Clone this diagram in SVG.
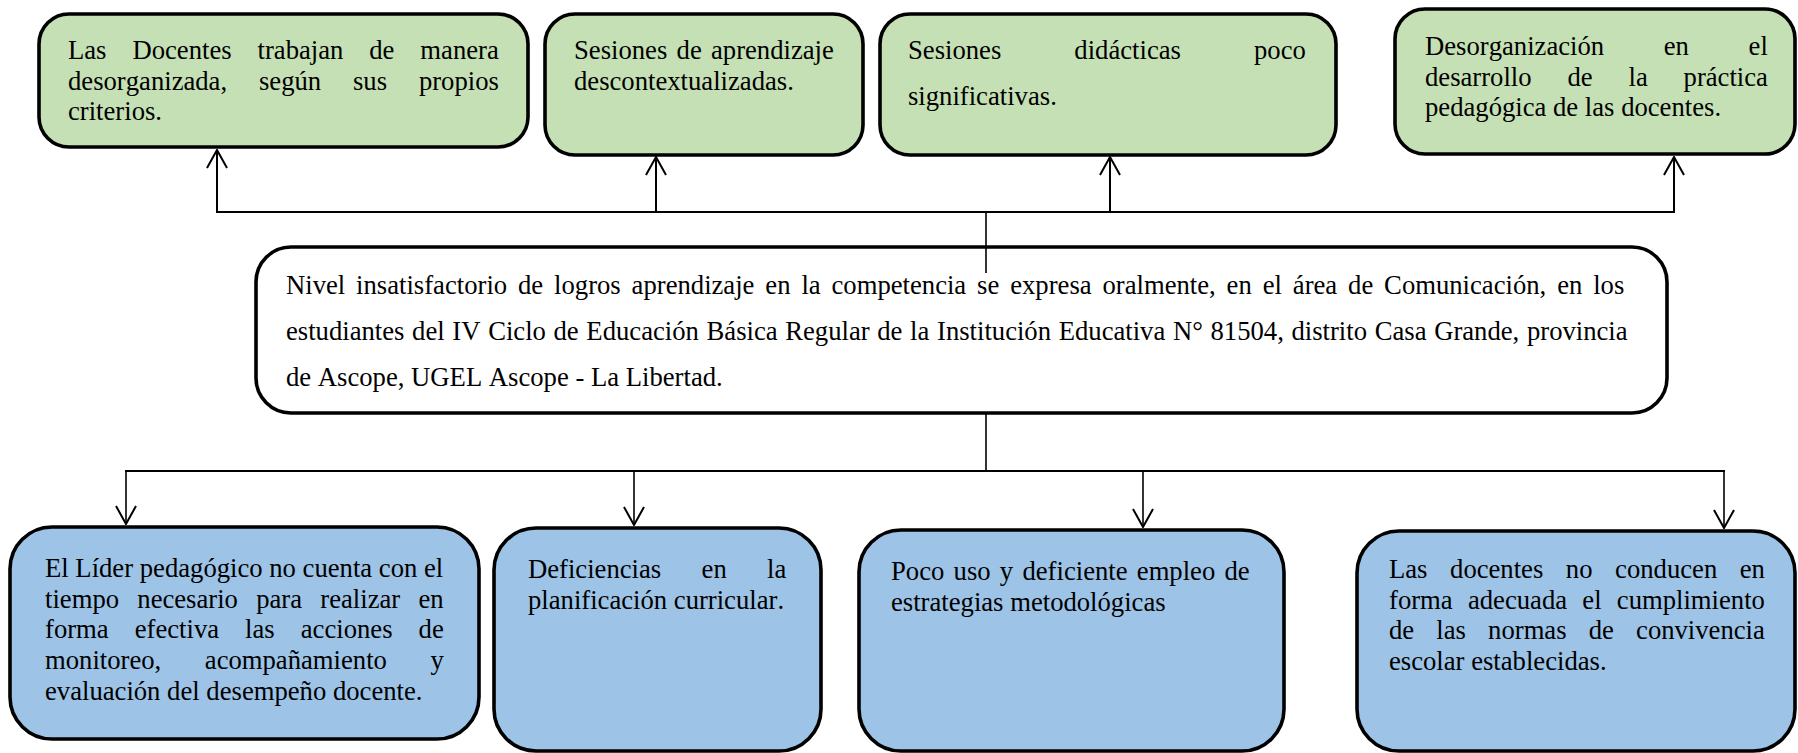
<svg xmlns="http://www.w3.org/2000/svg" width="1798" height="753" viewBox="0 0 1798 753">
<defs>
<style>
.t{font-family:"Liberation Serif","Times New Roman",serif;font-size:26.67px;fill:#000;font-kerning:none}
.g{fill:#C5E0B4;stroke:#000;stroke-width:3.6}
.b{fill:#9DC3E6;stroke:#000;stroke-width:3.6}
.w{fill:#fff;stroke:#000;stroke-width:3.6}
.c{fill:none;stroke:#000;stroke-width:2}
.c2{fill:none;stroke:#000;stroke-width:1.6}
</style>
<marker id="ah" markerUnits="userSpaceOnUse" viewBox="0 0 20 22" refX="19" refY="11" markerWidth="20" markerHeight="22" orient="auto">
<path d="M1,1 L19,11 L1,21" fill="none" stroke="#000" stroke-width="2"/>
</marker>
</defs>
<rect width="1798" height="753" fill="#fff"/>
<g id="n1">
<rect class="g" x="39" y="14" width="489" height="133" rx="30"/>
<text class="t" x="68" y="59" style="word-spacing:19.26px">Las Docentes trabajan de manera</text>
<text class="t" x="68" y="89.5" style="word-spacing:25.17px">desorganizada, según sus propios</text>
<text class="t" x="68" y="120">criterios.</text>
</g>
<g id="n2">
<rect class="g" x="545" y="14" width="318" height="141" rx="30"/>
<text class="t" x="574" y="59" style="word-spacing:2.6px">Sesiones de aprendizaje</text>
<text class="t" x="574" y="89.5">descontextualizadas.</text>
</g>
<g id="n3">
<rect class="g" x="880" y="14" width="456" height="141" rx="30"/>
<text class="t" x="908" y="59" style="word-spacing:66.4px">Sesiones didácticas poco</text>
<text class="t" x="908" y="105">significativas.</text>
</g>
<g id="n4">
<rect class="g" x="1395" y="9" width="400" height="145" rx="30"/>
<text class="t" x="1425" y="55" style="word-spacing:53px">Desorganización en el</text>
<text class="t" x="1425" y="85.7" style="word-spacing:29.2px">desarrollo de la práctica</text>
<text class="t" x="1425" y="116.3">pedagógica de las docentes.</text>
</g>
<g id="n0">
<rect class="w" x="256" y="247" width="1411" height="166" rx="35"/>
<text class="t" x="286" y="293.5" style="word-spacing:4.23px">Nivel insatisfactorio de logros aprendizaje en la competencia se expresa oralmente, en el área de Comunicación, en los</text>
<text class="t" x="286" y="339.5" style="word-spacing:1px">estudiantes del IV Ciclo de Educación Básica Regular de la Institución Educativa N° 81504, distrito Casa Grande, provincia</text>
<text class="t" x="286" y="385.5">de Ascope, UGEL Ascope - La Libertad.</text>
</g>
<g id="n5">
<rect class="b" x="10" y="527" width="469" height="212" rx="42"/>
<text class="t" x="45" y="577">El Líder pedagógico no cuenta con el</text>
<text class="t" x="45" y="607.7" style="word-spacing:11.6px">tiempo necesario para realizar en</text>
<text class="t" x="45" y="638.3" style="word-spacing:19.4px">forma efectiva las acciones de</text>
<text class="t" x="45" y="669" style="word-spacing:36.9px">monitoreo, acompañamiento y</text>
<text class="t" x="45" y="699.7">evaluación del desempeño docente.</text>
</g>
<g id="n6">
<rect class="b" x="494" y="528" width="327" height="223" rx="42"/>
<text class="t" x="528" y="578" style="word-spacing:33.7px">Deficiencias en la</text>
<text class="t" x="528" y="608.7">planificación curricular.</text>
</g>
<g id="n7">
<rect class="b" x="859" y="530" width="425" height="221" rx="42"/>
<text class="t" x="891" y="580" style="word-spacing:2.6px">Poco uso y deficiente empleo de</text>
<text class="t" x="891" y="610.7">estrategias metodológicas</text>
</g>
<g id="n8">
<rect class="b" x="1357" y="531" width="438" height="220" rx="42"/>
<text class="t" x="1389" y="578" style="word-spacing:15.9px">Las docentes no conducen en</text>
<text class="t" x="1389" y="608.7" style="word-spacing:8.6px">forma adecuada el cumplimiento</text>
<text class="t" x="1389" y="639.3" style="word-spacing:15.5px">de las normas de convivencia</text>
<text class="t" x="1389" y="670">escolar establecidas.</text>
</g>
<g id="connectors">
<path class="c" d="M216,212 H1675"/>
<path class="c" d="M217,212 V150" marker-end="url(#ah)"/>
<path class="c" d="M656,212 V157" marker-end="url(#ah)"/>
<path class="c" d="M1110,212 V157" marker-end="url(#ah)"/>
<path class="c" d="M1674,212 V157" marker-end="url(#ah)"/>
<path class="c2" d="M986,212 V273"/>
<path class="c2" d="M986,413 V471"/>
<path class="c" d="M125,471 H1725"/>
<path class="c2" d="M126,471 V524" marker-end="url(#ah)"/>
<path class="c2" d="M634,471 V525" marker-end="url(#ah)"/>
<path class="c2" d="M1143,471 V527" marker-end="url(#ah)"/>
<path class="c2" d="M1724,471 V528" marker-end="url(#ah)"/>
</g>
</svg>
